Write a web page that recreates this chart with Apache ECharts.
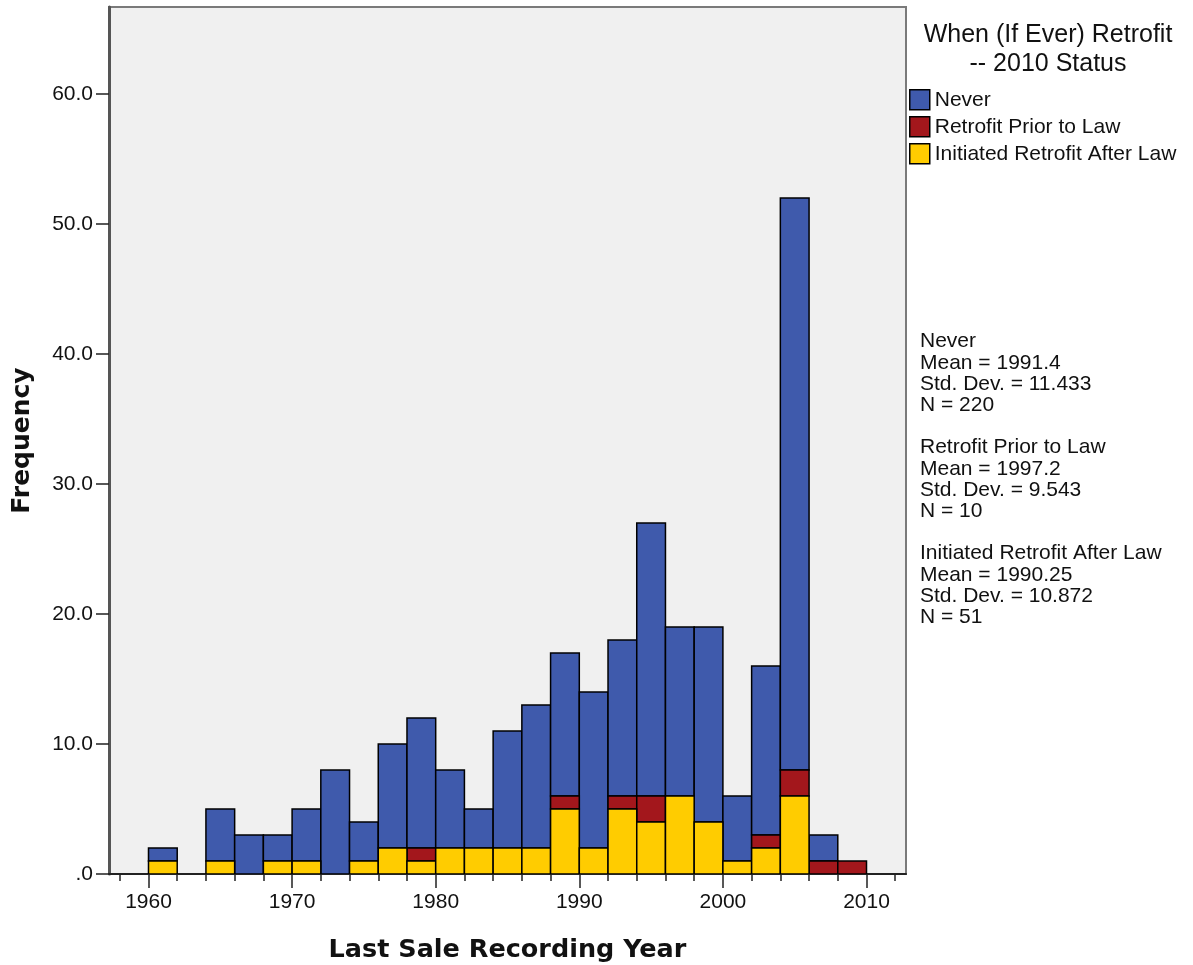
<!DOCTYPE html>
<html>
<head>
<meta charset="utf-8">
<script src="https://cdn.jsdelivr.net/npm/echarts@6/dist/echarts.min.js"></script>
<style>
html,body{margin:0;padding:0;background:#fff;}
#chart{width:1193px;height:965px;}
</style>
</head>
<body>
<div id="chart"></div>
<script>
// Bin starts (2-year bins)
const binStarts = [1960,1962,1964,1966,1968,1970,1972,1974,1976,1978,1980,1982,1984,1986,1988,1990,1992,1994,1996,1998,2000,2002,2004,2006,2008];
const binWidth = 2;
const initiatedAfter = [1,0,1,0,1,1,0,1,2,1,2,2,2,2,5,2,5,4,6,4,1,2,6,0,0];
const priorToLaw     = [0,0,0,0,0,0,0,0,0,1,0,0,0,0,1,0,1,2,0,0,0,1,2,1,1];
const never          = [1,0,4,3,2,4,8,3,8,10,6,3,9,11,11,12,12,21,13,15,5,13,44,2,0];
const seriesNames = ['Never','Retrofit Prior to Law','Initiated Retrofit After Law'];
const yTicks = [0,10,20,30,40,50,60];
const xMajorTicks = [1960,1970,1980,1990,2000,2010];
const xMinorTicks = [1958,1960,1962,1964,1966,1968,1970,1972,1974,1976,1978,1980,1982,1984,1986,1988,1990,1992,1994,1996,1998,2000,2002,2004,2006,2008,2010,2012];
const statsLines = [
  'Never','Mean = 1991.4','Std. Dev. = 11.433','N = 220','',
  'Retrofit Prior to Law','Mean = 1997.2','Std. Dev. = 9.543','N = 10','',
  'Initiated Retrofit After Law','Mean = 1990.25','Std. Dev. = 10.872','N = 51'
];

const colors = {
  'Never':'#3F5AAC',
  'Retrofit Prior to Law':'#A3171C',
  'Initiated Retrofit After Law':'#FFCC00'
};

// stacking: yellow bottom, red middle, blue top
const stackOrder = [
  ['Initiated Retrofit After Law', initiatedAfter],
  ['Retrofit Prior to Law', priorToLaw],
  ['Never', never]
];
const base = binStarts.map(() => 0);
const stacked = {};
stackOrder.forEach(([name, vals]) => {
  const rows = [];
  vals.forEach((v, i) => {
    if (v > 0) rows.push([binStarts[i], base[i], base[i] + v]);
    base[i] += v;
  });
  stacked[name] = rows;
});

function renderRect(params, api) {
  const x0 = api.value(0), y0 = api.value(1), y1 = api.value(2);
  const p0 = api.coord([x0, y1]);
  const p1 = api.coord([x0 + binWidth, y0]);
  return {
    type: 'rect',
    shape: {x: p0[0], y: p0[1], width: p1[0] - p0[0], height: p1[1] - p0[1]},
    style: {fill: api.visual('color'), stroke: '#000', lineWidth: 1.5}
  };
}

const FONT = 'Liberation Sans, Arial, sans-serif';
const chart = echarts.init(document.getElementById('chart'));
chart.setOption({
  animation: false,
  backgroundColor: '#ffffff',
  title: {
    text: 'When (If Ever) Retrofit\n-- 2010 Status',
    left: 1043, top: 16, textAlign: 'center',
    textStyle: {fontFamily: FONT, fontSize: 25, fontWeight: 'normal', color: '#111', lineHeight: 29}
  },
  legend: {
    orient: 'vertical', left: 909, top: 89, padding: 0,
    itemWidth: 20, itemHeight: 20, itemGap: 5.5,
    icon: 'rect',
    data: seriesNames,
    itemStyle: {borderColor: '#000', borderWidth: 1.5},
    textStyle: {fontFamily: FONT, fontSize: 21, color: '#111'}
  },
  grid: {
    left: 109, right: 287, top: 7, bottom: 91,
    outerBoundsMode: 'none', containLabel: false,
    show: true, backgroundColor: '#F0F0F0', borderColor: '#7a7a7a', borderWidth: 2
  },
  xAxis: [{
    type: 'value', min: 1957.25, max: 2012.75,
    name: 'Last Sale Recording Year', nameLocation: 'middle', nameGap: 63,
    nameTextStyle: {fontFamily: 'DejaVu Sans', fontWeight: 'bold', fontSize: 25.5, color: '#111'},
    axisLine: {show: true, onZero: false, lineStyle: {color: '#222', width: 2}},
    axisTick: {show: true, customValues: xMajorTicks, length: 14, lineStyle: {color: '#222', width: 1.5}},
    axisLabel: {customValues: xMajorTicks, fontFamily: FONT, fontSize: 21, color: '#111', margin: 18,
      formatter: v => String(v)},
    splitLine: {show: false}
  }, {
    type: 'value', min: 1957.25, max: 2012.75, position: 'bottom',
    axisLine: {show: false},
    axisTick: {show: true, customValues: xMinorTicks, length: 7, lineStyle: {color: '#222', width: 1.5}},
    axisLabel: {show: false},
    splitLine: {show: false}
  }],
  yAxis: {
    type: 'value', min: 0, max: 66.7, interval: 10,
    name: 'Frequency', nameLocation: 'middle', nameGap: 74, nameRotate: 90,
    nameTextStyle: {fontFamily: 'DejaVu Sans', fontWeight: 'bold', fontSize: 25, color: '#111'},
    axisLine: {show: true, lineStyle: {color: '#555', width: 3}},
    axisTick: {show: true, customValues: yTicks, length: 13, lineStyle: {color: '#222', width: 1.5}},
    axisLabel: {customValues: yTicks, fontFamily: FONT, fontSize: 21, color: '#111', margin: 16,
      formatter: v => v === 0 ? '.0' : v.toFixed(1)},
    splitLine: {show: false}
  },
  graphic: [{
    type: 'text', left: 920, top: 331,
    style: {text: statsLines.join('\n'), font: '21px ' + FONT, lineHeight: 21.2, fill: '#111'}
  }],
  series: seriesNames.map(name => ({
    name: name, type: 'custom', xAxisIndex: 0, yAxisIndex: 0,
    renderItem: renderRect,
    itemStyle: {color: colors[name]},
    encode: {x: 0, y: [1, 2]},
    data: stacked[name],
    clip: true
  }))
});
</script>
</body>
</html>
